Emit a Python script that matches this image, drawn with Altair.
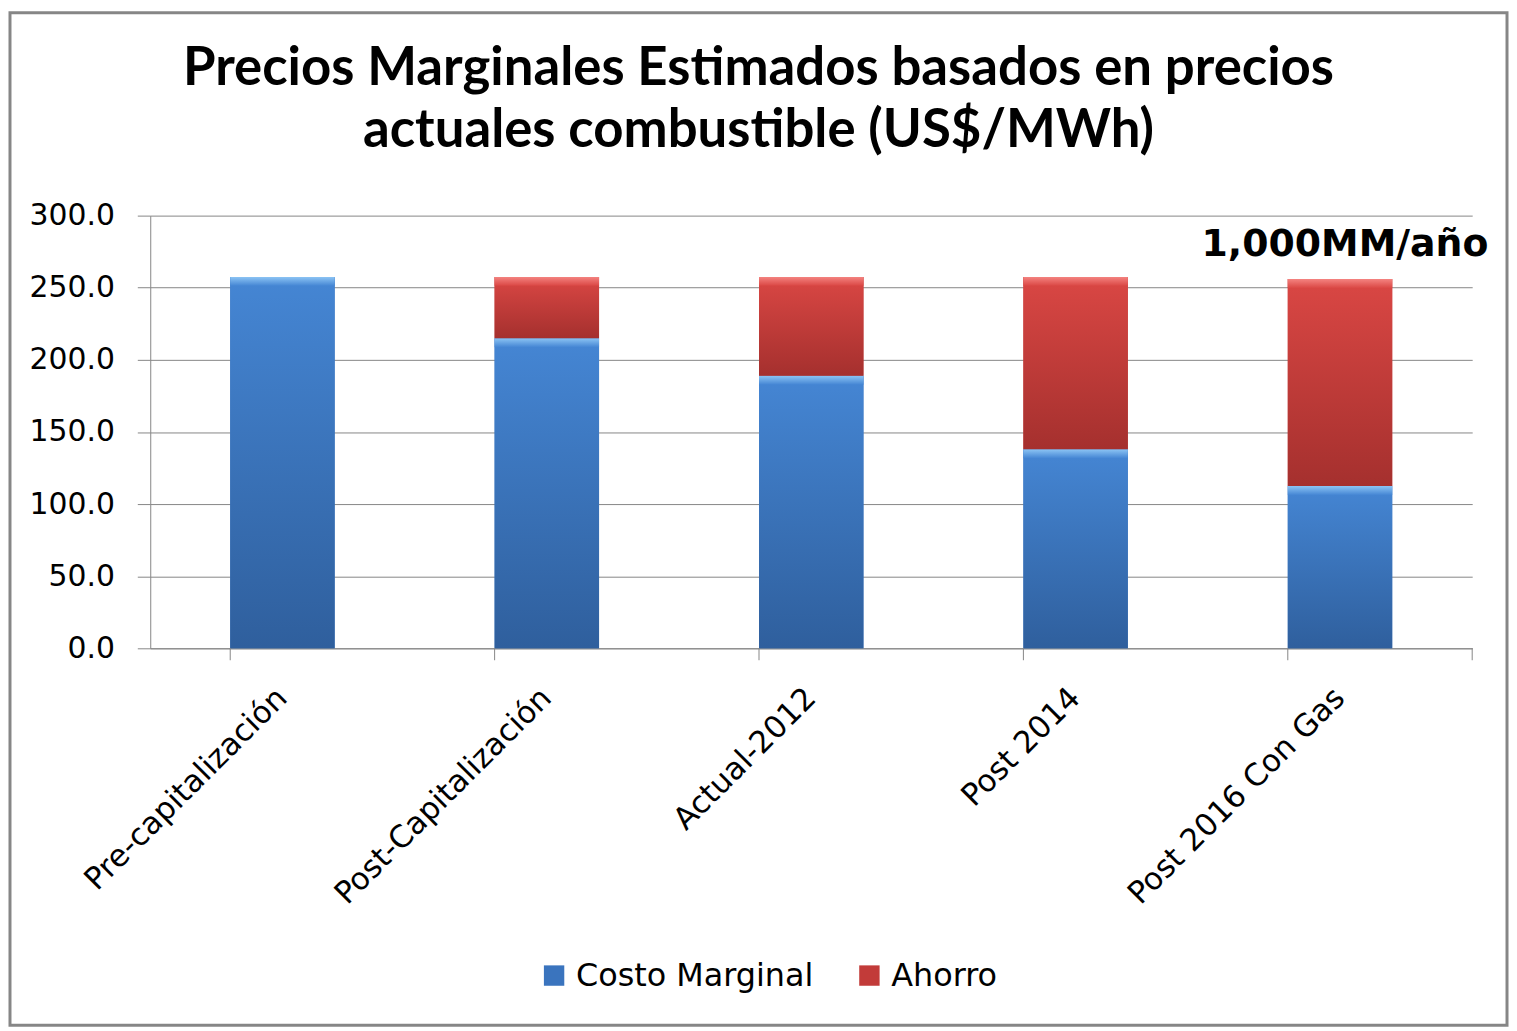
import altair as alt
import pandas as pd

categories = ["Pre-capitalización", "Post-Capitalización", "Actual-2012", "Post 2014", "Post 2016 Con Gas"]
costo = [257.5, 215.0, 189.0, 138.0, 112.5]
ahorro = [0.0, 42.5, 68.5, 119.5, 143.5]
series = ["Costo Marginal", "Ahorro"]
series_colors = ["#3a74be", "#c23b39"]
y_ticks = [0, 50, 100, 150, 200, 250, 300]
title_lines = ["Precios Marginales Estimados basados en precios", "actuales combustible (US$/MWh)"]
annot_cat = ["Post 2016 Con Gas"]
annot_y = [272]
annot_text = ["1,000MM/año"]

W, H = 1329, 435
PAD = {"left": 143, "top": 206, "right": 37, "bottom": 381}
GRID = "#868686"

df = pd.DataFrame({"cat": categories, "costo": costo, "ahorro": ahorro})
df["total"] = df["costo"] + df["ahorro"]

xscale = alt.Scale(domain=categories, paddingInner=0.605, paddingOuter=0.3025)
yscale = alt.Scale(domain=[0, 300])

x_enc = alt.X("cat:N", scale=xscale, sort=categories,
              axis=alt.Axis(title=None, labelAngle=-45, labelAlign="right", labelBaseline="middle",
                            labelFont="DejaVu Sans", labelFontSize=31, labelColor="black",
                            labelPadding=45, ticks=False, domainColor=GRID, labelLimit=1000))

def grad(c_top, c_bot):
    return alt.Gradient(gradient="linear", x1=0, x2=0, y1=0, y2=1,
                        stops=[alt.GradientStop(color=c_top, offset=0),
                               alt.GradientStop(color=c_bot, offset=1)])

base = alt.Chart(df)

legend_layer = base.transform_fold(["costo", "ahorro"], as_=["k", "v"]).transform_calculate(
    serie="datum.k == 'costo' ? 'Costo Marginal' : 'Ahorro'",
    ord="datum.k == 'costo' ? 0 : 1",
).mark_bar().encode(
    x=x_enc,
    y=alt.Y("v:Q", stack="zero", scale=yscale,
            axis=alt.Axis(title=None, values=y_ticks, format=".1f", tickSize=13, tickColor=GRID,
                          gridColor=GRID, domainColor=GRID, labelFont="DejaVu Sans", labelFontSize=30,
                          labelColor="black", labelPadding=23)),
    color=alt.Color("serie:N", scale=alt.Scale(domain=series, range=series_colors),
                    legend=alt.Legend(orient="none", legendX=390, legendY=748, direction="horizontal",
                                      title=None, symbolType="square", symbolSize=420,
                                      symbolStrokeWidth=0, labelFont="DejaVu Sans", labelFontSize=32,
                                      labelColor="black", columnPadding=40, labelOffset=6,
                                      labelLimit=500)),
    order=alt.Order("ord:Q"),
)

costo_layer = base.mark_bar(color=grad("#4586d4", "#2f5f9d")).encode(
    x=alt.X("cat:N", scale=xscale, sort=categories), y=alt.Y("costo:Q", scale=yscale))
costo_hl = base.mark_bar(color=grad("#8cc4f4", "#4586d4"), y2Offset=9).encode(
    x=alt.X("cat:N", scale=xscale, sort=categories), y=alt.Y("costo:Q", scale=yscale), y2="costo:Q")

ahorro_layer = base.transform_filter("datum.ahorro > 0").mark_bar(color=grad("#da4744", "#a5302e")).encode(
    x=alt.X("cat:N", scale=xscale, sort=categories), y=alt.Y("costo:Q", scale=yscale), y2="total:Q")
ahorro_hl = base.transform_filter("datum.ahorro > 0").mark_bar(color=grad("#f48380", "#da4744"), y2Offset=9).encode(
    x=alt.X("cat:N", scale=xscale, sort=categories), y=alt.Y("total:Q", scale=yscale), y2="total:Q")

tick_df = pd.DataFrame({"cat": categories})
ticks_layer = alt.Chart(tick_df).mark_rule(color=GRID, strokeWidth=1).encode(
    x=alt.X("cat:N", scale=xscale, sort=categories, bandPosition=0),
    y=alt.value(H), y2=alt.value(H + 12))
end_tick = alt.Chart(pd.DataFrame({"a": [0]})).mark_rule(color=GRID, strokeWidth=1).encode(
    x=alt.value(W), y=alt.value(H), y2=alt.value(H + 12))

annot = alt.Chart(pd.DataFrame({"cat": annot_cat, "y": annot_y, "t": annot_text})).mark_text(
    font="DejaVu Sans", fontSize=38, fontWeight="bold", baseline="alphabetic", align="center",
    color="black", dx=5).encode(
    x=alt.X("cat:N", scale=xscale, sort=categories), y=alt.Y("y:Q", scale=yscale), text="t:N")

frame = alt.Chart(pd.DataFrame({"a": [0]})).mark_rect(fill=None, stroke="#868686", strokeWidth=3).encode(
    x=alt.value(-PAD["left"] + 2), x2=alt.value(W + PAD["right"] - 2),
    y=alt.value(-PAD["top"] + 2), y2=alt.value(H + PAD["bottom"] - 2))

chart = alt.layer(
    legend_layer, costo_layer, costo_hl, ahorro_layer, ahorro_hl, ticks_layer, end_tick, annot, frame
).properties(
    width=W, height=H,
    autosize=alt.AutoSizeParams(type="none"),
    padding=PAD,
    background="white",
    title=alt.TitleParams(text=title_lines, font="Lato", fontSize=53, fontWeight="bold", color="black",
                          lineHeight=63, anchor="middle", dx=-53, offset=-148),
).configure_view(stroke=None)

chart.save("out.html", embed_options={"renderer": "svg", "actions": False})
